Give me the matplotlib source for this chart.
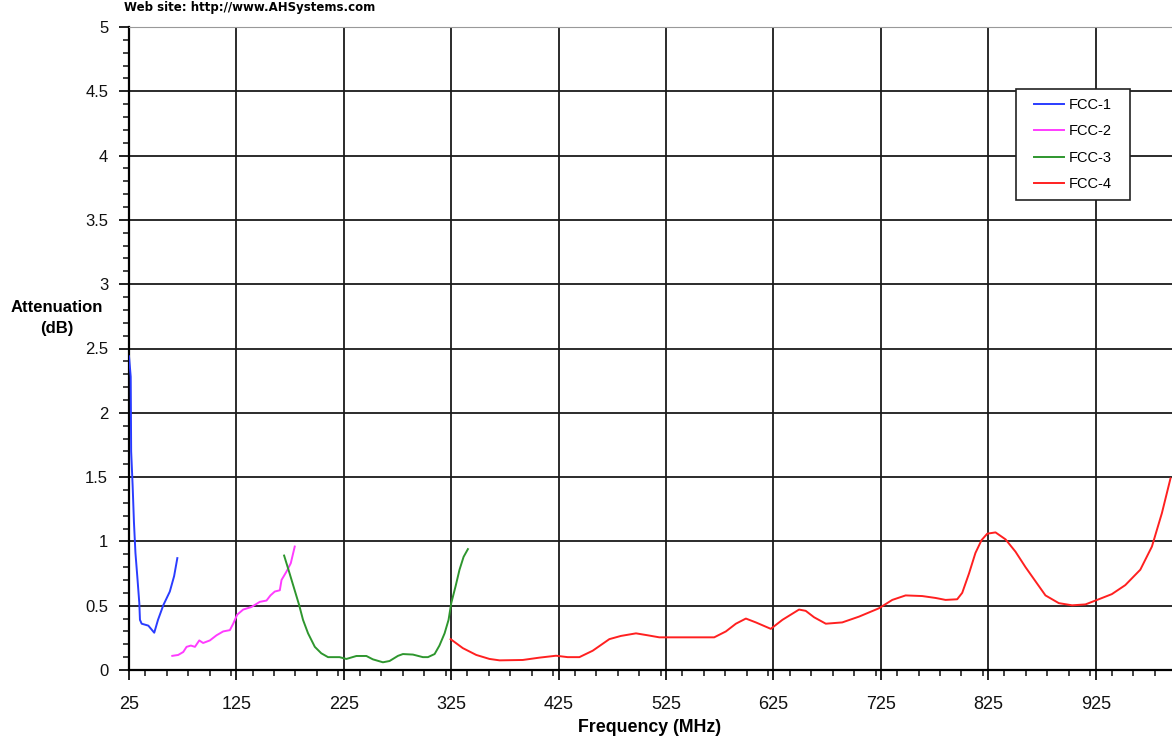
import numpy as np
import matplotlib
matplotlib.use("Agg")
import matplotlib.pyplot as plt
from matplotlib.ticker import MultipleLocator, FuncFormatter
from matplotlib.patches import Rectangle

plt.rcParams['font.family'] = ['Liberation Sans', 'DejaVu Sans']

# Data (frequency MHz, attenuation dB)
fcc1_f = [25, 26.6, 27, 28.4, 29.6, 31, 32.7, 34.6, 35.2, 36.8, 43, 48.5, 52, 57, 63, 67, 70]
fcc1_v = [2.44, 2.28, 1.70, 1.43, 1.15, 0.91, 0.73, 0.52, 0.39, 0.36, 0.345, 0.29, 0.39, 0.505, 0.61, 0.73, 0.87]

fcc2_f = [65.3, 70.8, 75.5, 78.6, 82.6, 86.4, 90.4, 94, 100.3, 106.5, 112.7, 118.9, 122, 125.7,
          131.3, 139, 146.8, 153, 156.7, 160.7, 165.4, 167, 171.6, 175.6, 179.3]
fcc2_v = [0.11, 0.117, 0.14, 0.18, 0.19, 0.18, 0.23, 0.21, 0.23, 0.27, 0.30, 0.31, 0.36, 0.43,
          0.47, 0.49, 0.53, 0.54, 0.58, 0.61, 0.62, 0.70, 0.765, 0.83, 0.96]

fcc3_f = [169.4, 173.1, 177.8, 183.4, 187, 191.7, 198, 204, 210.3, 221, 227.4, 236.7, 246, 252,
          261.4, 267.6, 275.4, 280, 289.3, 298.6, 303.3, 309.5, 314, 318.8, 322.5, 325, 329,
          332.7, 336.5, 340.5]
fcc3_v = [0.89, 0.79, 0.66, 0.505, 0.39, 0.285, 0.18, 0.13, 0.10, 0.10, 0.086, 0.109, 0.109, 0.083,
          0.06, 0.07, 0.11, 0.124, 0.12, 0.10, 0.10, 0.124, 0.19, 0.285, 0.39, 0.52, 0.65,
          0.78, 0.88, 0.94]

fcc4_f = [324.4, 335.8, 348.3, 360.6, 370, 391.6, 407, 422.6, 433.4, 444.3, 456.7, 472.2, 483,
          497, 507.8, 518.7, 537.3, 569.8, 580.7, 590, 599.3, 608.6, 622.5, 633.3, 648.8, 655,
          662.8, 673.7, 689, 704.6, 723.2, 735.6, 748, 763.5, 776, 785.2, 796, 800.7, 807, 813,
          818.7, 824, 831.7, 841, 850.3, 859.6, 868.9, 878.2, 890.6, 903, 915.4, 927.8, 940,
          952.5, 966.5, 977.3, 986.6, 994.6]
fcc4_v = [0.24, 0.17, 0.117, 0.086, 0.075, 0.078, 0.096, 0.111, 0.10, 0.10, 0.15, 0.24, 0.265,
          0.285, 0.27, 0.254, 0.254, 0.254, 0.30, 0.36, 0.40, 0.37, 0.32, 0.39, 0.47, 0.46,
          0.41, 0.36, 0.37, 0.415, 0.48, 0.545, 0.58, 0.575, 0.56, 0.545, 0.55, 0.60, 0.75, 0.91,
          1.01, 1.06, 1.07, 1.016, 0.92, 0.80, 0.69, 0.58, 0.52, 0.503, 0.51, 0.55, 0.59,
          0.66, 0.78, 0.96, 1.22, 1.49]

labels = ['FCC-1', 'FCC-2', 'FCC-3', 'FCC-4']
colors = ['#2a3cff', '#ff3cff', '#2e962e', '#ff2020']
x_ticks = [25, 125, 225, 325, 425, 525, 625, 725, 825, 925]

fig = plt.figure(figsize=(11.72, 7.42), dpi=100)
ax = fig.add_axes([129/1172, 1-670/742, 1-129/1172, (670-27)/742])

series = [(fcc1_f, fcc1_v), (fcc2_f, fcc2_v), (fcc3_f, fcc3_v), (fcc4_f, fcc4_v)]
for (f, v), lab, c in zip(series, labels, colors):
    ax.plot(f, v, color=c, lw=1.4, label=lab, zorder=3)

ax.set_xlim(25, 996)
ax.set_ylim(0, 5)
ax.set_xticks(x_ticks)
ax.xaxis.set_minor_locator(MultipleLocator(20))
ax.yaxis.set_major_locator(MultipleLocator(0.5))
ax.yaxis.set_minor_locator(MultipleLocator(0.1))
ax.yaxis.set_major_formatter(FuncFormatter(lambda y, p: '%g' % y))

ax.grid(True, which='major', color='#1a1a1a', lw=1.3)
ax.set_axisbelow(True)
ax.tick_params(which='major', direction='out', length=7, width=1.3, colors='#111')
ax.tick_params(which='minor', direction='out', length=4, width=1.1, colors='#111')
ax.tick_params(axis='y', pad=8, labelsize=12)
ax.tick_params(axis='x', pad=12, labelsize=13)

ax.spines['right'].set_visible(False)
ax.spines['top'].set_color('#999999')
ax.spines['left'].set_linewidth(1.6)
ax.spines['bottom'].set_linewidth(1.6)

# legend box
ax.add_patch(Rectangle((1016/1172, 1-200/742), 114/1172, 111/742, transform=fig.transFigure,
                       facecolor='white', edgecolor='#222', lw=1.2, zorder=4, clip_on=False))
leg = ax.legend(loc='center', bbox_to_anchor=(1073/1172, 1-144.5/742), bbox_transform=fig.transFigure,
                frameon=False, fontsize=10.5, handlelength=2.0, handletextpad=0.35,
                labelspacing=0.85, borderpad=0.3)
leg.set_zorder(5)

fig.text(57/1172, 1-318/742, 'Attenuation\n(dB)', ha='center', va='center',
         fontsize=12, fontweight='bold', linespacing=1.5)
fig.text(650/1172, 1-728/742, 'Frequency (MHz)', ha='center', va='center',
         fontsize=12.8, fontweight='bold')
fig.text(124/1172, 1-8/742, 'Web site: http://www.AHSystems.com', ha='left', va='center',
         fontsize=8.5, fontweight='bold', family='DejaVu Sans')

fig.savefig('out.png', dpi=100)
